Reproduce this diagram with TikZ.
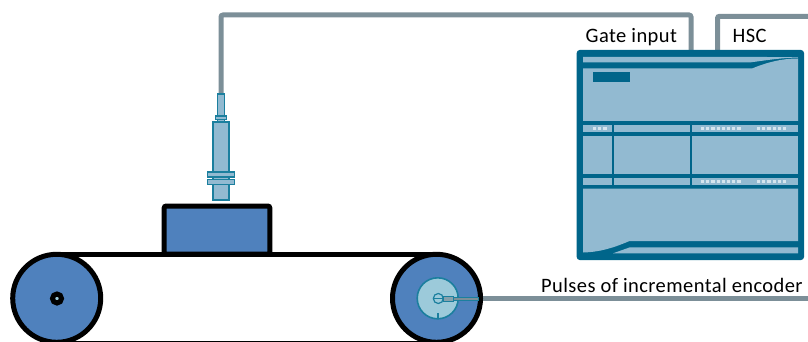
\documentclass[tikz,border=0pt]{standalone}
\usepackage{fontspec}
\setmainfont{Carlito}
\newfontfamily\labelfont[LetterSpace=2]{Carlito}
\definecolor{plcdark}{HTML}{00658A}
\definecolor{plclight}{HTML}{92BAD1}
\definecolor{plcdot}{HTML}{D5E5EE}
\definecolor{cablegrey}{HTML}{7C8F98}
\definecolor{wheelblue}{HTML}{4F81BD}
\definecolor{hubfill}{HTML}{9CCADA}
\definecolor{hubline}{HTML}{1B7F9E}
\tikzset{
  cable/.style={draw=cablegrey,line width=5pt,rounded corners=2pt},
  belt/.style={draw=black,line width=5pt},
  wheel/.style={draw=black,line width=5pt,fill=wheelblue},
  sensorpart/.style={draw=hubline,line width=1.4pt,fill=plclight},
  plcpanel/.style={fill=plclight},
  plcdotmark/.style={fill=plcdot},
  label/.style={anchor=base west,inner sep=0pt,font=\labelfont\fontsize{20.5}{24}\selectfont,text=black}
}
\newcommand{\dotrow}[3]{\foreach \k in {1,...,#3}{\fill[plcdotmark] ({#1+(\k-1)*5.2-1.6},#2-1.6) rectangle ++(3.2,3.2);}}
\begin{document}
\begin{tikzpicture}[x=1pt,y=-1pt]
\useasboundingbox (0,0) rectangle (808,342);
\clip (0,0) rectangle (808,342);
% anchors
\coordinate (sensorTop) at (221,94);
\coordinate (gateIn) at (691,52);
\coordinate (hscIn) at (717.5,52);
\coordinate (hscEnd) at (808,16.3);
\coordinate (encOut) at (478,298.8);
\coordinate (encEnd) at (808,298.8);
% cables
\draw[cable] (sensorTop) -- (221,15) -- (691,15) -- (gateIn);
\draw[cable] (hscIn) -- (717.5,16.3) -- (hscEnd);
\draw[cable,rounded corners=0pt] (encOut) -- (encEnd);
% labels
\node[label] (gate) at (585.5,43) {Gate input};
\node[label] (hsc) at (732.5,43) {HSC};
\node[label] (pulses) at (541,292) {Pulses of incremental encoder};
% PLC
\fill[plcdark,rounded corners=3pt] (576.7,50) rectangle (804,260);
\fill[plcpanel] (583,57) -- (767,57) .. controls (778,57.5) and (788,57) .. (798,57) -- (798,57.5) .. controls (780,58) and (768,60) .. (751,62.3) -- (583,62.3) -- cycle;
\fill[plcpanel] (583,68.5) -- (752,68.5) .. controls (768,62) and (782,58.5) .. (798,58.5) -- (798,121) -- (583,121) -- cycle;
\fill[plcpanel] (583,125) rectangle (798,131.7);
\fill[plcpanel] (583,135.7) rectangle (798,174);
\fill[plcpanel] (583,178) rectangle (798,185);
\fill[plcpanel] (583,188.7) -- (798,188.7) -- (798,241) -- (629.5,241) .. controls (613,248) and (600,252) .. (583,252.5) -- cycle;
\fill[plcpanel] (630,247.3) -- (798,247.3) -- (798,253.3) -- (613,253.3) -- cycle;
\fill[plcdark] (592.7,72) rectangle (630,81.7);
\fill[plcdark] (612.3,125) rectangle (614.3,185);
\fill[plcdark] (689.7,125) rectangle (691.7,185);
\dotrow{594.5}{128.3}{3}
\dotrow{702.5}{128.3}{8}
\dotrow{758.5}{128.3}{6}
\dotrow{702.5}{181.3}{8}
\dotrow{758.5}{181.3}{6}
% proximity sensor
\draw[sensorpart] (217.5,94) rectangle (224.3,116);
\draw[sensorpart] (217.5,119) rectangle (224.3,122);
\draw[sensorpart] (215.3,116) rectangle (226.7,119.3);
\draw[sensorpart] (212.9,122) rectangle (229,200);
\draw[sensorpart] (207.5,172) rectangle (234.7,177);
\draw[sensorpart] (207.5,179.3) rectangle (234.7,184.3);
% object on the belt
\draw[draw=black,line width=5pt,fill=wheelblue,rounded corners=2pt] (164.2,206) rectangle (269.8,254);
% belt and wheels
\draw[belt] (57,254) -- (437,254);
\draw[belt] (57,343.7) -- (437,343.7);
\draw[wheel] (56.7,298.3) circle (44);
\draw[wheel] (436.5,298.3) circle (44);
\draw[draw=black,line width=5pt,fill=hubfill] (57,298.5) circle (4.5);
% encoder
\draw[draw=hubline,line width=1.6pt,fill=hubfill] (437.7,298.3) circle (20.5);
\draw[draw=hubline,line width=1.6pt] (437.7,313) -- (437.7,318.5);
\draw[draw=hubline,line width=1.2pt,fill=hubfill] (438.3,298.5) circle (5);
\draw[draw=hubline,line width=1pt] (433.3,298.5) -- (443.3,298.5);
\draw[draw=hubline,line width=1pt,fill=cablegrey!70!hubfill] (443.3,296.8) rectangle (453,301.5);
\draw[draw=hubline,line width=0.9pt,fill=cablegrey] (453,297) rectangle (478,300.3);
\end{tikzpicture}
\end{document}
